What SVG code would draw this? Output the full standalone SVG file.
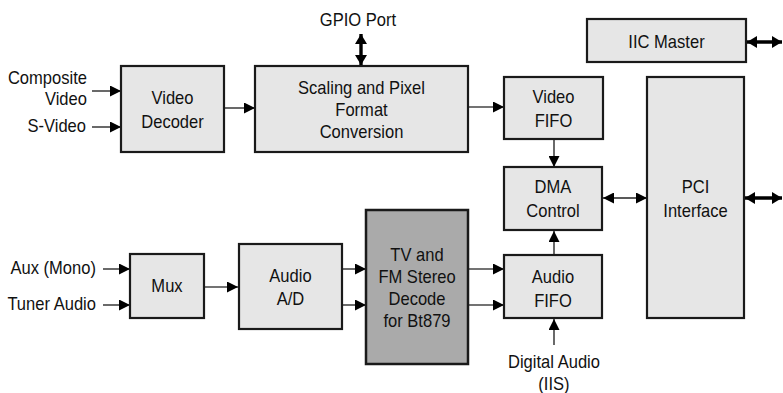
<svg xmlns="http://www.w3.org/2000/svg" width="783" height="393" viewBox="0 0 783 393">
<defs>
<style>
.box{fill:#e6e6e6;stroke:#1a1a1a;stroke-width:2.2}
.dark{fill:#aaaaaa;stroke:#1a1a1a;stroke-width:2.5}
text{font-family:"Liberation Sans",Arial,sans-serif;font-size:18px;fill:#111;transform:scaleX(0.92);transform-box:fill-box;transform-origin:center}
.c{text-anchor:middle}
.r{text-anchor:end;transform-origin:right}
.w{stroke:#444;stroke-width:1.6;fill:none;marker-end:url(#ah)}
.wd{stroke:#222;stroke-width:1.6;fill:none;marker-end:url(#ah);marker-start:url(#ah)}
.b{stroke:#000;stroke-width:3.4;fill:none;marker-end:url(#bh);marker-start:url(#bh)}
</style>
<marker id="ah" markerUnits="userSpaceOnUse" markerWidth="11" markerHeight="11" refX="11" refY="5.5" orient="auto-start-reverse" viewBox="0 0 11 11">
<path d="M0,0 L11,5.5 L0,11 z" fill="#000"/>
</marker>
<marker id="bh" markerUnits="userSpaceOnUse" markerWidth="10" markerHeight="12" refX="10" refY="6" orient="auto-start-reverse" viewBox="0 0 10 12">
<path d="M0,0 L10,6 L0,12 z" fill="#000"/>
</marker>
</defs>
<rect width="783" height="393" fill="#fff"/>

<g id="connectors">
<line class="w" x1="92" y1="91" x2="121" y2="91"/>
<line class="w" x1="92" y1="127" x2="121" y2="127"/>
<line class="w" x1="225" y1="108" x2="255" y2="108"/>
<line class="b" x1="361" y1="34" x2="361" y2="65"/>
<line class="w" x1="469" y1="107" x2="504" y2="107"/>
<line class="w" x1="554" y1="140" x2="554" y2="167"/>
<line class="wd" x1="603" y1="198" x2="647" y2="198"/>
<line class="b" x1="747" y1="42" x2="782" y2="42"/>
<line class="b" x1="745" y1="198" x2="782" y2="198"/>
<line class="w" x1="103" y1="269" x2="130" y2="269"/>
<line class="w" x1="103" y1="305" x2="130" y2="305"/>
<line class="w" x1="205" y1="287" x2="238" y2="287"/>
<line class="w" x1="343" y1="269" x2="366" y2="269"/>
<line class="w" x1="343" y1="305" x2="366" y2="305"/>
<line class="w" x1="469" y1="269" x2="504" y2="269"/>
<line class="w" x1="469" y1="305" x2="504" y2="305"/>
<line class="w" x1="554" y1="255" x2="554" y2="231"/>
<line class="w" x1="554" y1="345" x2="554" y2="319"/>
</g>

<g id="composite-label"><text class="r" x="87" y="84">Composite</text><text class="r" x="87" y="105">Video</text></g>
<g id="svideo-label"><text class="r" x="86" y="132">S-Video</text></g>
<g id="gpio-label"><text class="c" x="358" y="26">GPIO Port</text></g>
<g id="aux-label"><text class="r" x="96" y="274">Aux (Mono)</text></g>
<g id="tuner-label"><text class="r" x="96" y="310">Tuner Audio</text></g>
<g id="digital-audio-label"><text class="c" x="554" y="368">Digital Audio</text><text class="c" x="554" y="390">(IIS)</text></g>

<g id="video-decoder">
<rect class="box" x="121" y="66" width="103" height="86"/>
<text class="c" x="172.5" y="104">Video</text>
<text class="c" x="172.5" y="128">Decoder</text>
</g>
<g id="scaling">
<rect class="box" x="255" y="66" width="213" height="86"/>
<text class="c" x="361.5" y="94">Scaling and Pixel</text>
<text class="c" x="361.5" y="116">Format</text>
<text class="c" x="361.5" y="138">Conversion</text>
</g>
<g id="video-fifo">
<rect class="box" x="504" y="77" width="99" height="62"/>
<text class="c" x="553.5" y="103">Video</text>
<text class="c" x="553.5" y="127">FIFO</text>
</g>
<g id="iic-master">
<rect class="box" x="587" y="19" width="159" height="43"/>
<text class="c" x="666.5" y="48">IIC Master</text>
</g>
<g id="dma-control">
<rect class="box" x="504" y="167" width="98" height="63"/>
<text class="c" x="553" y="193">DMA</text>
<text class="c" x="553" y="217">Control</text>
</g>
<g id="pci-interface">
<rect class="box" x="647" y="77" width="97" height="241"/>
<text class="c" x="695.5" y="193">PCI</text>
<text class="c" x="695.5" y="217">Interface</text>
</g>
<g id="audio-fifo">
<rect class="box" x="504" y="255" width="98" height="63"/>
<text class="c" x="553" y="283">Audio</text>
<text class="c" x="553" y="307">FIFO</text>
</g>
<g id="tv-fm-decode">
<rect class="dark" x="366" y="210" width="102" height="154"/>
<text class="c" x="417" y="261">TV and</text>
<text class="c" x="417" y="283">FM Stereo</text>
<text class="c" x="417" y="305">Decode</text>
<text class="c" x="417" y="327">for Bt879</text>
</g>
<g id="mux">
<rect class="box" x="130" y="254" width="74" height="64"/>
<text class="c" x="167" y="292">Mux</text>
</g>
<g id="audio-ad">
<rect class="box" x="239" y="244" width="103" height="85"/>
<text class="c" x="290.5" y="282">Audio</text>
<text class="c" x="290.5" y="305">A/D</text>
</g>
</svg>
